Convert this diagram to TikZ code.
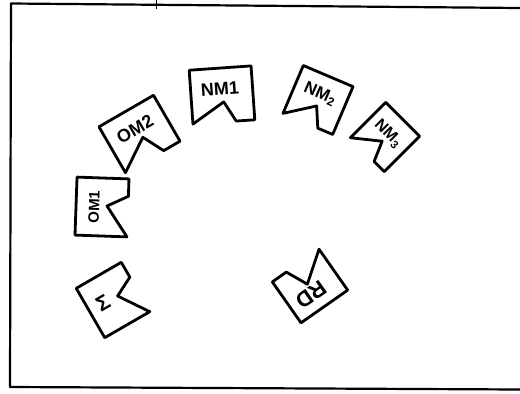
\documentclass[tikz,border=0pt]{standalone}
\usepackage{fontspec}
\setmainfont{Liberation Sans}
\tikzset{
  flagline/.style={line width=2.8pt, line join=round, line cap=round},
  frameline/.style={line width=2.2pt, line join=round},
  lbl/.style={font=\bfseries\fontsize{#1}{#1}\selectfont, inner sep=0pt},
  pics/flag/.style n args={3}{code={
    \draw[flagline] (-#1/2,#2/2) -- (#1/2,#2/2) -- (#1/2,-#2/2) -- (0.2*#1,-#2/2)
       -- (0.02*#1,-#2/2+#3) -- (-#1/2,-#2/2) -- cycle;
    \coordinate (-c) at (0,0);
  }},
}
\begin{document}
\begin{tikzpicture}[x=1pt, y=-1pt]
\useasboundingbox (0,0) rectangle (520,394);
% frame (open on the right)
\draw[frameline] (520,8) -- (11,3.5) -- (10,387) -- (520,389.5);
\draw[line width=0.6pt] (156,0) -- (156,9);
% flags
\pic (om2) [rotate=30]  at (139.5,134) {flag={63pt}{53pt}{22pt}};
\pic (nm1) [rotate=4]   at (222,95)    {flag={62pt}{54pt}{20pt}};
\pic (nm2) [rotate=-23] at (318,100)   {flag={54pt}{52pt}{20pt}};
\pic (nm3) [rotate=-45] at (385,137)   {flag={48pt}{50pt}{20pt}};
\pic (om1) [rotate=88]  at (102,207)   {flag={58pt}{52pt}{21pt}};
\pic (sig) [rotate=120] at (113,300)   {flag={57pt}{52pt}{20pt}};
\pic (rd)  [rotate=215] at (310,286)   {flag={57pt}{50pt}{22pt}};
% labels
\node[lbl=18, rotate=30]  (om2t) at (135,129) {OM2};
\node[lbl=18, rotate=4]   (nm1t) at (220,89)  {NM1};
\node[lbl=17, rotate=-23] (nm2t) at (320,94)  {NM\textsubscript{2}};
\node[lbl=16, rotate=-45] (nm3t) at (388,134) {NM\textsubscript{3}};
\node[lbl=15, rotate=88]  (om1t) at (94,207)  {OM1};
\node[lbl=21, rotate=30]  (sigt) at (103,303) {Σ};
\node[lbl=22, rotate=215] (rdt)  at (311,295) {RD};
\end{tikzpicture}
\end{document}
